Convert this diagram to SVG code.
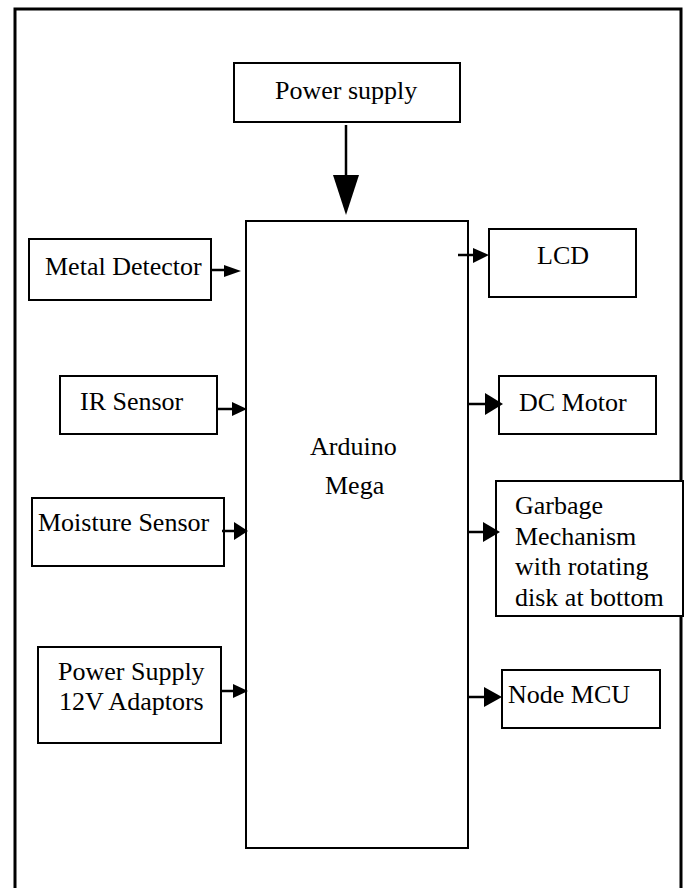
<svg xmlns="http://www.w3.org/2000/svg" width="687" height="888" viewBox="0 0 687 888">
<style>
.box{fill:#fff;stroke:#000;stroke-width:2}
.t{font-family:"Liberation Serif","Times New Roman",serif;font-size:26px;fill:#000}
.ln{stroke:#000;stroke-width:2.5;fill:none}
.hd{fill:#000;stroke:none}
</style>
<rect width="687" height="888" fill="#fff"/>
<path d="M15,888 V9 H681 V888" fill="none" stroke="#000" stroke-width="3"/>
<g id="power-supply"><rect class="box" x="234" y="63" width="226" height="59"/><text class="t" x="275" y="99">Power supply</text></g>
<g id="arduino-mega"><rect class="box" x="246" y="221" width="222" height="627"/><text class="t" x="310" y="455">Arduino</text><text class="t" x="325" y="494">Mega</text></g>
<g id="metal-detector"><rect class="box" x="29" y="239" width="182" height="61"/><text class="t" x="45" y="275">Metal Detector</text></g>
<g id="ir-sensor"><rect class="box" x="60" y="376" width="157" height="58"/><text class="t" x="80" y="410">IR Sensor</text></g>
<g id="moisture-sensor"><rect class="box" x="32" y="498" width="192" height="68"/><text class="t" x="38" y="531">Moisture Sensor</text></g>
<g id="power-supply-12v"><rect class="box" x="38" y="647" width="183" height="96"/><text class="t" x="58" y="680">Power Supply</text><text class="t" x="59" y="710">12V Adaptors</text></g>
<g id="lcd"><rect class="box" x="489" y="229" width="147" height="68"/><text class="t" x="537" y="264">LCD</text></g>
<g id="dc-motor"><rect class="box" x="499" y="376" width="157" height="58"/><text class="t" x="519" y="411">DC Motor</text></g>
<g id="garbage-mechanism"><rect class="box" x="496" y="481" width="187" height="135"/><text class="t" x="515" y="514">Garbage</text><text class="t" x="515" y="545">Mechanism</text><text class="t" x="515" y="575">with rotating</text><text class="t" x="515" y="606">disk at bottom</text></g>
<g id="node-mcu"><rect class="box" x="502" y="670" width="158" height="58"/><text class="t" x="508" y="703">Node MCU</text></g>
<g id="connectors">
<line class="ln" x1="346" y1="125" x2="346" y2="176" stroke-width="3.5"/><polygon class="hd" points="333,175 359,175 346,215"/>
<line class="ln" x1="211" y1="270" x2="225" y2="270"/><polygon class="hd" points="224,265 224,277 241,271"/>
<line class="ln" x1="217" y1="409" x2="233" y2="409"/><polygon class="hd" points="232,402 232,416 247,409"/>
<line class="ln" x1="222" y1="531" x2="235" y2="531"/><polygon class="hd" points="234,522 234,540 248,531"/>
<line class="ln" x1="221" y1="691" x2="234" y2="691"/><polygon class="hd" points="233,684 233,698 248,691"/>
<line class="ln" x1="458" y1="255" x2="474" y2="255"/><polygon class="hd" points="473,248 473,263 489,255"/>
<line class="ln" x1="468" y1="404" x2="486" y2="404"/><polygon class="hd" points="485,393 485,415 503,404"/>
<line class="ln" x1="468" y1="532" x2="484" y2="532"/><polygon class="hd" points="483,522 483,542 500,532"/>
<line class="ln" x1="468" y1="697" x2="485" y2="697"/><polygon class="hd" points="484,687 484,707 502,697"/>
</g>
</svg>
